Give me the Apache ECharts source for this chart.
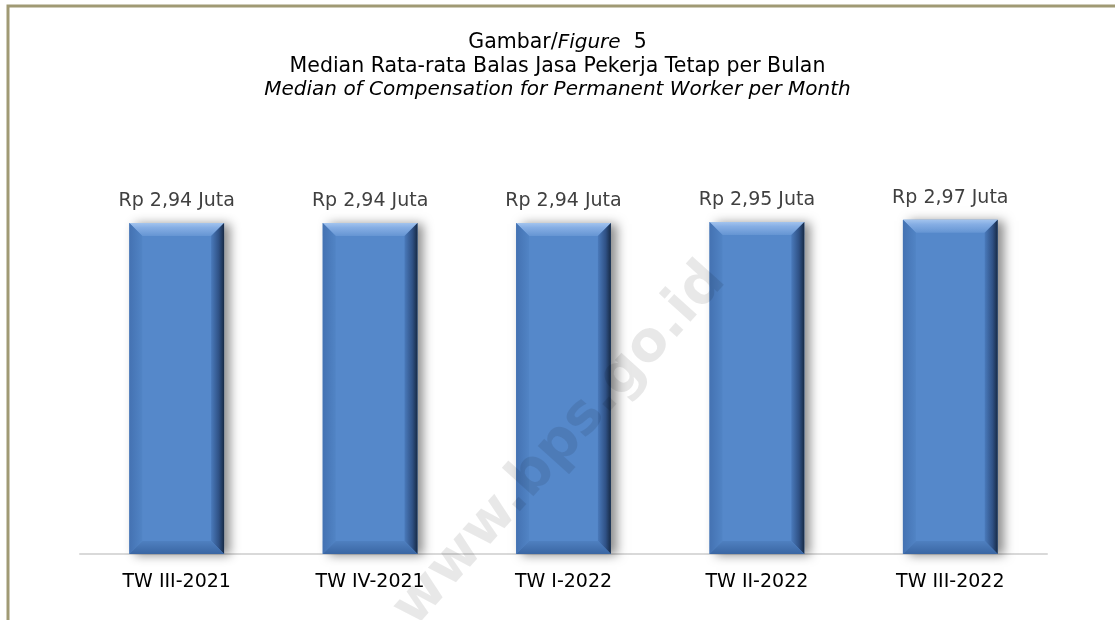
<!DOCTYPE html>
<html>
<head>
<meta charset="utf-8">
<script src="https://cdn.jsdelivr.net/npm/echarts@6/dist/echarts.min.js"></script>
<style>
  html, body { margin: 0; padding: 0; background: #fff; }
  #chart { width: 1115px; height: 620px; }
</style>
</head>
<body>
<div id="chart"></div>
<script>
// quarters and median compensation (million rupiah)
const categories = ["TW III-2021", "TW IV-2021", "TW I-2022", "TW II-2022", "TW III-2022"];
const medianValues = [2.94, 2.94, 2.94, 2.95, 2.97];
const valueLabels = ["Rp 2,94 Juta", "Rp 2,94 Juta", "Rp 2,94 Juta", "Rp 2,95 Juta", "Rp 2,97 Juta"];

const FONT = "DejaVu Sans";
const chart = echarts.init(document.getElementById("chart"));

// bar with bevelled edges, like the office chart style
function renderBevelBar(params, api) {
    const idx = api.value(0);
    const val = api.value(1);
    const top = api.coord([idx, val]);
    const base = api.coord([idx, 0]);
    const w = api.size([1, 0])[0] * 0.49;
    const x0 = top[0] - w / 2, x1 = top[0] + w / 2;
    const y0 = top[1], y1 = base[1];
    const b = 13;
    return {
        type: "group",
        children: [
            {
                type: "rect",
                shape: { x: x0, y: y0, width: w, height: y1 - y0 },
                style: { fill: "#5588ca", shadowBlur: 10, shadowOffsetX: 6, shadowOffsetY: 1, shadowColor: "rgba(0,0,0,0.45)" }
            },
            {
                type: "polygon",
                shape: { points: [[x0, y0], [x1, y0], [x1 - b, y0 + b], [x0 + b, y0 + b]] },
                style: { fill: new echarts.graphic.LinearGradient(0, 0, 0, 1, [
                    { offset: 0, color: "#a3c4ee" }, { offset: 0.35, color: "#86aee4" }, { offset: 1, color: "#6595d3" }
                ]) }
            },
            {
                type: "polygon",
                shape: { points: [[x0, y0], [x0 + b, y0 + b], [x0 + b, y1 - b], [x0, y1]] },
                style: { fill: new echarts.graphic.LinearGradient(0, 0, 1, 0, [
                    { offset: 0, color: "#4472b2" }, { offset: 1, color: "#5184c5" }
                ]) }
            },
            {
                type: "polygon",
                shape: { points: [[x1, y0], [x1, y1], [x1 - b, y1 - b], [x1 - b, y0 + b]] },
                style: { fill: new echarts.graphic.LinearGradient(0, 0, 1, 0, [
                    { offset: 0, color: "#4a7abb" }, { offset: 0.6, color: "#2f5185" }, { offset: 1, color: "#172a45" }
                ]) }
            },
            {
                type: "polygon",
                shape: { points: [[x0, y1], [x0 + b, y1 - b], [x1 - b, y1 - b], [x1, y1]] },
                style: { fill: new echarts.graphic.LinearGradient(0, 0, 0, 1, [
                    { offset: 0, color: "#4f80c0" }, { offset: 1, color: "#3a66a3" }
                ]) }
            },
            {
                type: "text",
                style: {
                    x: top[0], y: y0 - 22,
                    text: valueLabels[idx],
                    fill: "#404040",
                    font: "19px '" + FONT + "'",
                    align: "center", verticalAlign: "middle"
                }
            }
        ]
    };
}

const option = {
    backgroundColor: "#ffffff",
    animation: false,
    title: {
        left: "center",
        top: 26,
        text: "{n|Gambar/}{i|Figure}{n|  5}\n{n|Median Rata-rata Balas Jasa Pekerja Tetap per Bulan}\n{i|Median of Compensation for Permanent Worker per Month}",
        textStyle: {
            fontWeight: "normal",
            rich: {
                n: { fontFamily: FONT, fontSize: 20.5, color: "#000", fontWeight: "normal", lineHeight: 23.5 },
                i: { fontFamily: FONT, fontSize: 20, color: "#000", fontWeight: "normal", fontStyle: "italic", lineHeight: 23.5 }
            }
        }
    },
    grid: { left: 80, right: 68, top: 160, bottom: 66 },
    xAxis: {
        type: "category",
        data: categories,
        axisLine: { lineStyle: { color: "#d9d9d9", width: 2 } },
        axisTick: { show: false },
        axisLabel: { color: "#000", fontFamily: FONT, fontSize: 19, margin: 19 }
    },
    yAxis: {
        type: "value",
        min: 0,
        max: 3.5,
        show: false
    },
    series: [{
        type: "custom",
        renderItem: renderBevelBar,
        encode: { x: 0, y: 1 },
        data: medianValues.map((v, i) => [i, v])
    }],
    graphic: [
        {
            type: "polyline",
            shape: { points: [[8, 620], [8, 6], [1115, 6]] },
            style: { stroke: "#a09a74", lineWidth: 3, fill: null },
            silent: true
        },
        {
            type: "text",
            x: 560, y: 445,
            rotation: Math.PI * 48 / 180,
            z: 100,
            style: {
                text: "www.bps.go.id",
                font: "bold 56px 'DejaVu Sans'",
                fill: "rgba(0,0,0,0.09)",
                align: "center", verticalAlign: "middle"
            },
            silent: true
        }
    ]
};
chart.setOption(option);
</script>
</body>
</html>
